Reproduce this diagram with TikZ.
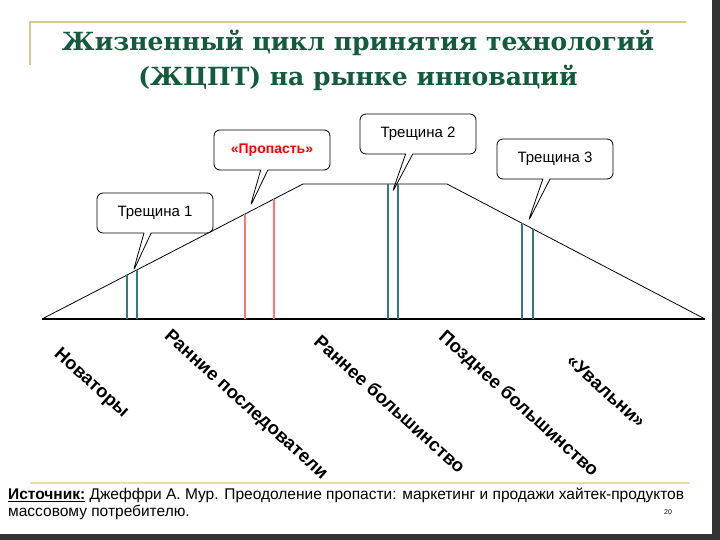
\documentclass[tikz,border=0pt]{standalone}
\usepackage{fontspec}
\setmainfont{Liberation Sans}
\newfontfamily\titlefont{DejaVu Serif}
\usetikzlibrary{shapes.callouts}
\begin{document}
\begin{tikzpicture}[x=1pt,y=-1pt,
  gl/.style={draw=teal!70!black!80,line width=1.4pt},
  rl/.style={draw=red!55,line width=1.6pt},
  call/.style={rectangle callout,draw,thick,rounded corners=6pt,minimum width=116pt,minimum height=40pt,font=\fontsize{15}{17}\selectfont},
  seg/.style={font=\bfseries\fontsize{18.5}{21}\selectfont,rotate=-42,anchor=north west,inner sep=0pt}]
\useasboundingbox (0,0) rectangle (720,540);
\fill[white] (0,0) rectangle (720,540);
\draw[draw={rgb,255:red,215;green,200;blue,140},line width=2pt] (30,65) -- (30,22) -- (686,22);
\draw[draw={rgb,255:red,235;green,220;blue,170},line width=1.5pt] (30,483) -- (690,483);
\fill[black!80] (712,0) rectangle (720,540);
\fill[black!80] (0,534) rectangle (720,540);
\node[font=\titlefont\bfseries\fontsize{25}{35}\selectfont,text={rgb,255:red,20;green,90;blue,60},align=center] (title) at (358,60) {Жизненный цикл принятия технологий\\(ЖЦПТ) на рынке инноваций};
% curve
\coordinate (a) at (42,319); \coordinate (b) at (303,184); \coordinate (c) at (447,184); \coordinate (d) at (705,319);
\draw[thick] (a) -- (b) -- (c) -- (d);
\draw[line width=2.5pt] (42,319) -- (705,319);
\draw[gl] (127,275) -- (127,319); \draw[gl] (137,270) -- (137,319);
\draw[rl] (245,214) -- (245,319); \draw[rl] (274,199) -- (274,319);
\draw[gl] (388,184) -- (388,319); \draw[gl] (398,184) -- (398,319);
\draw[gl] (522,223) -- (522,319); \draw[gl] (533,229) -- (533,319);
% callouts
\node[call,callout absolute pointer={(133,272)}] (t1) at (155,213) {Трещина 1};
\node[call,callout absolute pointer={(250,207)},text=red,font=\bfseries\fontsize{14}{16}\selectfont] (pr) at (272,150) {«Пропасть»};
\node[call,callout absolute pointer={(392,193)}] (t2) at (418,134) {Трещина 2};
\node[call,callout absolute pointer={(528,222)}] (t3) at (555,159) {Трещина 3};
% segment labels
\node[seg] (s1) at (62,346) {Новаторы};
\node[seg] (s2) at (172,328) {Ранние последователи};
\node[seg] (s3) at (322,333) {Раннее большинство};
\node[seg] (s4) at (447,328) {Позднее большинство};
\node[seg] (s5) at (574,353) {«Увальни»};
% source
\node[anchor=north west,align=left,font=\fontsize{15.5}{17}\selectfont,inner sep=0pt] (src) at (8,488) {\underline{\textbf{Источник:}} Джеффри А. Мур. Преодоление пропасти: маркетинг и продажи хайтек-продуктов\\массовому потребителю.};
\node[font=\fontsize{7}{8}\selectfont] (pg) at (668,512) {20};
\end{tikzpicture}
\end{document}
